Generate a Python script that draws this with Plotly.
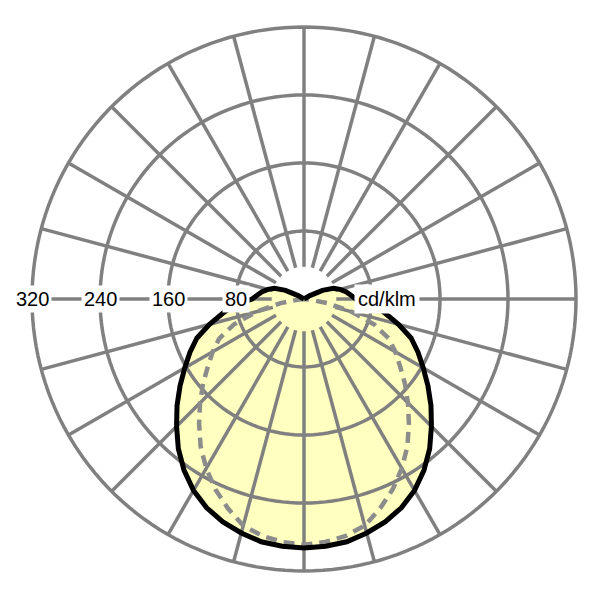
import math
import plotly.graph_objects as go

# ---------------- data ----------------
gamma = list(range(0, 185, 5))  # polar angle from nadir, degrees

# C0-C180 plane (solid black), cd/klm
i_c0_c180 = [293, 292, 290, 285, 279, 271, 260, 246, 230, 212, 195, 178, 162,
             148, 134, 115, 97, 82, 61, 55, 50, 44, 37, 24, 8,
             0, 0, 0, 0, 0, 0, 0, 0, 0, 0, 0, 0]

# C90-C270 plane (dashed grey), cd/klm
i_c90_c270 = [289, 287, 283, 276, 262, 247, 230, 212, 192, 173, 155, 138, 124,
              110, 88, 58, 28, 6, 0,
              0, 0, 0, 0, 0, 0, 0, 0, 0, 0, 0, 0, 0, 0, 0, 0, 0, 0]

ring_values = [80, 160, 240, 320]
ring_labels = ["80", "160", "240", "320"]
unit_label = "cd/klm"
r_max = 320
r_axis_max = 332              # a little headroom so the outer ring is not clipped
spoke_step = 15
spoke_inner = 38

# ---------------- layout constants ----------------
W = H = 600
PAGE_OFF = 8                  # default page margin of the html body
CX = 304 - PAGE_OFF           # centre px from left of figure
CY = H - (299 - PAGE_OFF)     # centre px from bottom of figure
RPX = 272                     # px radius of the 320 ring
RFULL = RPX * r_axis_max / r_max
dom_x = [(CX - RFULL) / W, (CX + RFULL) / W]
dom_y = [(CY - RFULL) / H, (CY + RFULL) / H]

GRID = "#808080"
FILL = "#ffffbf"
FONT = "Liberation Sans, Arial, Helvetica, sans-serif"


def mirror(vals):
    th = [-g for g in reversed(gamma[1:])] + gamma
    rr = list(reversed(vals[1:])) + vals
    return th, rr


th0, r0 = mirror(i_c0_c180)
th90, r90 = mirror(i_c90_c270)

fig = go.Figure()

# yellow fill of the main curve
fig.add_trace(go.Scatterpolar(r=r0, theta=th0, mode="lines", fill="toself",
                              fillcolor=FILL, line=dict(width=0, color=FILL),
                              hoverinfo="skip", showlegend=False))

# grid circles
cr, ct = [], []
for v in ring_values:
    for a in range(0, 361, 2):
        cr.append(v)
        ct.append(a)
    cr.append(None)
    ct.append(None)
fig.add_trace(go.Scatterpolar(r=cr, theta=ct, mode="lines",
                              line=dict(color=GRID, width=3.5),
                              hoverinfo="skip", showlegend=False))

# spokes
sr, st = [], []
for a in range(0, 360, spoke_step):
    sr += [spoke_inner, r_max, None]
    st += [a, a, None]
fig.add_trace(go.Scatterpolar(r=sr, theta=st, mode="lines",
                              line=dict(color=GRID, width=3.5),
                              hoverinfo="skip", showlegend=False))

# C90-C270 dashed
fig.add_trace(go.Scatterpolar(r=r90, theta=th90, mode="lines",
                              line=dict(color="#8c8c8c", width=4.5, dash="11px,7px"),
                              hoverinfo="skip", showlegend=False))

# C0-C180 solid
fig.add_trace(go.Scatterpolar(r=r0, theta=th0, mode="lines",
                              line=dict(color="black", width=5),
                              hoverinfo="skip", showlegend=False))


def to_paper(r, theta):
    ang = math.radians(-90 + theta)
    x = (CX + r / r_max * RPX * math.cos(ang)) / W
    y = (CY + r / r_max * RPX * math.sin(ang)) / H
    return x, y


annotations = []
for v, lab in zip(ring_values, ring_labels):
    x, y = to_paper(v, 270)
    annotations.append(dict(x=x, y=y, xref="paper", yref="paper", text=lab,
                            showarrow=False, xanchor="center", yanchor="middle",
                            bgcolor="white", borderpad=2,
                            font=dict(family=FONT, size=20, color="black")))
x, y = to_paper(98, 90)
annotations.append(dict(x=x, y=y, xref="paper", yref="paper", text=unit_label,
                        showarrow=False, xanchor="center", yanchor="middle",
                        bgcolor="white", borderpad=3,
                        font=dict(family=FONT, size=20, color="black")))

fig.update_layout(
    width=W, height=H,
    margin=dict(l=0, r=0, t=0, b=0),
    paper_bgcolor="white",
    plot_bgcolor="white",
    showlegend=False,
    annotations=annotations,
    polar=dict(
        domain=dict(x=dom_x, y=dom_y),
        bgcolor="rgba(0,0,0,0)",
        radialaxis=dict(range=[0, r_axis_max], visible=False, showgrid=False),
        angularaxis=dict(rotation=-90, direction="counterclockwise",
                         visible=False, showgrid=False, showline=False),
    ),
)

fig.write_html("out.html")
